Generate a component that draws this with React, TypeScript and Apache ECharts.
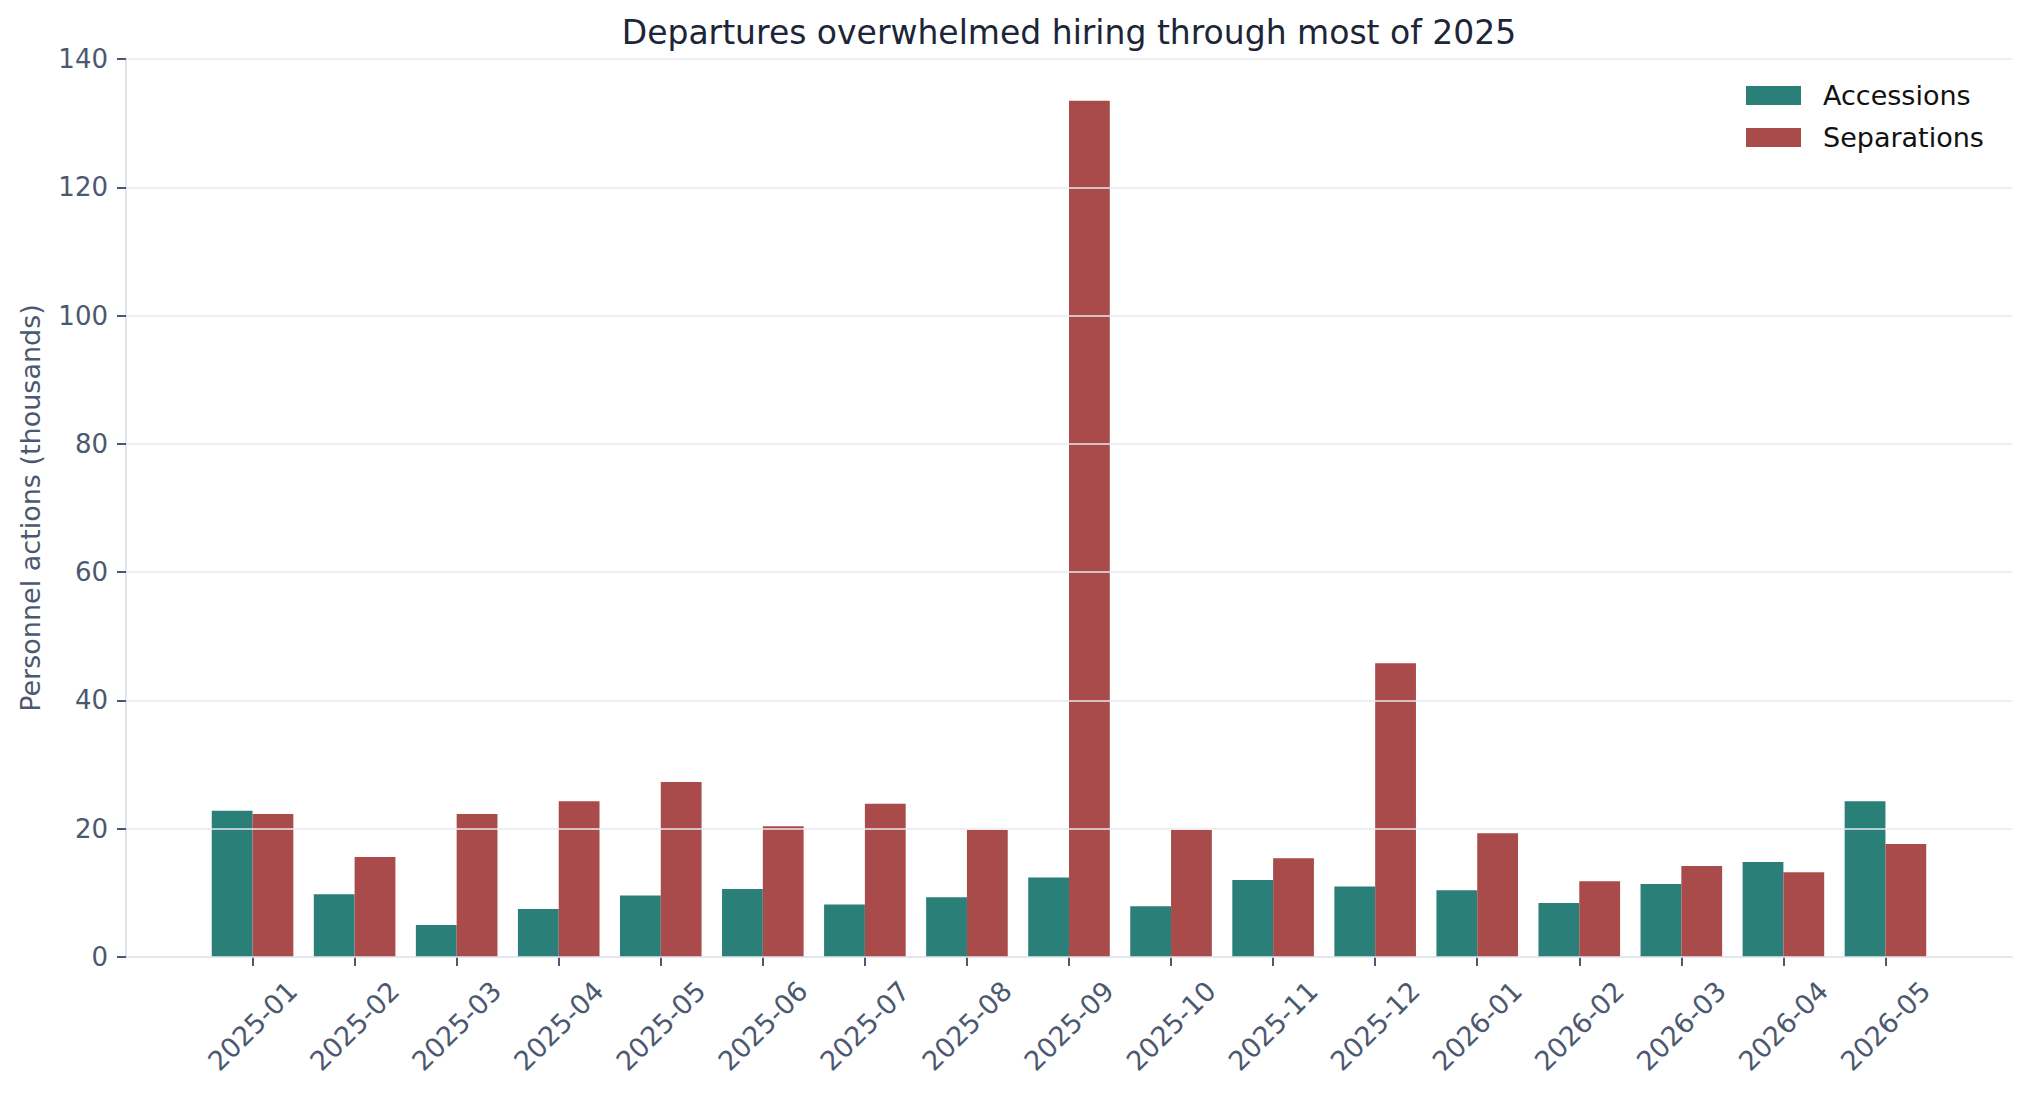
import React, { useEffect, useRef } from 'react';
import * as echarts from 'echarts';

// 月份
const months = [
  '2025-01', '2025-02', '2025-03', '2025-04', '2025-05', '2025-06', '2025-07', '2025-08', '2025-09',
  '2025-10', '2025-11', '2025-12', '2026-01', '2026-02', '2026-03', '2026-04', '2026-05'
];

// 数值 (千人)
const accessions = [22.8, 9.8, 5.0, 7.5, 9.6, 10.6, 8.2, 9.3, 12.4, 7.9, 12.0, 11.0, 10.4, 8.4, 11.4, 14.8, 24.3];
const separations = [22.3, 15.6, 22.3, 24.3, 27.3, 20.4, 23.9, 19.8, 133.5, 19.8, 15.4, 45.8, 19.3, 11.8, 14.2, 13.2, 17.6];

const yTicks = [0, 20, 40, 60, 80, 100, 120, 140];

const FONT = 'DejaVu Sans';
const TICK_COLOR = '#4b5870';
const AXIS_LINE = '#d5dae6';
const GRID_LINE = '#e6e9ef';

const App: React.FC = () => {
  const chartRef = useRef<HTMLDivElement>(null);

  useEffect(() => {
    if (!chartRef.current) return;
    document.body.style.margin = '0';

    const chart = echarts.init(chartRef.current, undefined, { renderer: 'svg' });
    const idx = months.map((_, i) => i);

    const option: echarts.EChartsOption = {
      animation: false,
      backgroundColor: '#ffffff',
      textStyle: { fontFamily: FONT },
      title: {
        text: 'Departures overwhelmed hiring through most of 2025',
        left: 1069,
        textAlign: 'center',
        top: 16,
        padding: 0,
        textStyle: { fontFamily: FONT, fontSize: 33, fontWeight: 'normal', color: '#1c2638' }
      },
      legend: {
        orient: 'vertical',
        left: 1746,
        top: 82,
        padding: 0,
        itemWidth: 55,
        itemHeight: 19,
        itemGap: 15,
        icon: 'rect',
        textStyle: { fontFamily: FONT, fontSize: 27, color: '#111111', padding: [0, 0, 0, 17] },
        data: ['Accessions', 'Separations']
      },
      grid: { left: 126, right: 18, top: 59, bottom: 137, containLabel: false },
      xAxis: {
        type: 'value',
        min: -1.24,
        max: 17.24,
        splitLine: { show: false },
        axisLine: { show: true, onZero: false, lineStyle: { color: AXIS_LINE, width: 1.5 } },
        axisTick: {
          show: true,
          length: 9,
          customValues: idx,
          lineStyle: { color: TICK_COLOR, width: 2 }
        },
        axisLabel: {
          customValues: idx,
          formatter: (v: number) => months[Math.round(v)] ?? '',
          rotate: 45,
          align: 'center',
          verticalAlign: 'middle',
          margin: 69,
          fontFamily: FONT,
          fontSize: 27,
          color: TICK_COLOR
        }
      },
      yAxis: {
        type: 'value',
        min: yTicks[0],
        max: yTicks[yTicks.length - 1],
        interval: 20,
        z: 3,
        name: 'Personnel actions (thousands)',
        nameLocation: 'middle',
        nameGap: 82,
        nameTextStyle: { fontFamily: FONT, fontSize: 27, color: TICK_COLOR },
        axisLine: { show: true, onZero: false, lineStyle: { color: AXIS_LINE, width: 1.5 } },
        axisTick: { show: true, length: 9, lineStyle: { color: TICK_COLOR, width: 2 } },
        axisLabel: { fontFamily: FONT, fontSize: 26, color: TICK_COLOR, margin: 18 },
        splitLine: { show: true, lineStyle: { color: GRID_LINE, width: 1.5 } }
      },
      series: [
        {
          name: 'Accessions',
          type: 'bar',
          barWidth: 40.8,
          barGap: '0%',
          itemStyle: { color: '#2a7f79' },
          data: accessions.map((v, i) => [i, v])
        },
        {
          name: 'Separations',
          type: 'bar',
          barWidth: 40.8,
          barGap: '0%',
          itemStyle: { color: '#a94b4a' },
          data: separations.map((v, i) => [i, v])
        }
      ]
    };

    chart.setOption(option);

    return () => {
      chart.dispose();
    };
  }, []);

  return <div ref={chartRef} style={{ width: 2030, height: 1094 }} />;
};

export default App;
